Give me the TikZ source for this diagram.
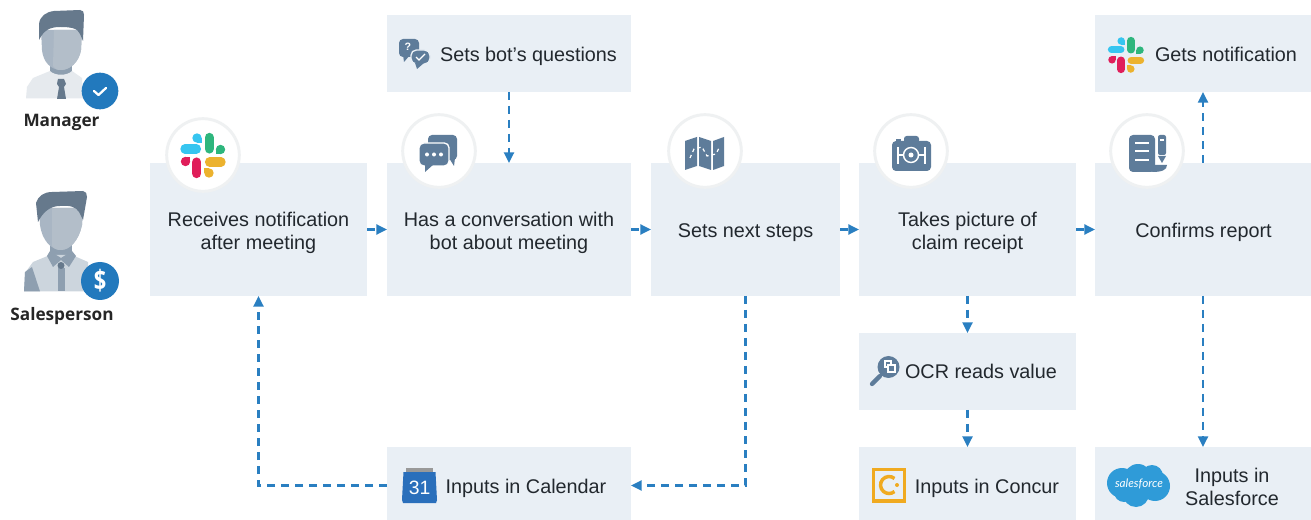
\documentclass[tikz,border=0pt]{standalone}
\usepackage{fontspec}
\setmainfont{Liberation Sans}
\newfontfamily\lblfont{Open Sans}
\newfontfamily\logofont{Lato}
\usetikzlibrary{arrows.meta}
\definecolor{boxbg}{HTML}{E9EFF5}
\definecolor{slate}{HTML}{5E7C9A}
\definecolor{flow}{HTML}{2A7FC1}
\definecolor{ink}{HTML}{22282E}
\definecolor{badge}{HTML}{2279BD}
\definecolor{ring}{HTML}{EFF1F2}
\definecolor{faceA}{HTML}{A9B6C4}
\definecolor{faceB}{HTML}{B3BEC9}
\definecolor{hairc}{HTML}{66798C}
\definecolor{neckc}{HTML}{8E9FB0}
\definecolor{slBlue}{HTML}{36C5F0}
\definecolor{slGreen}{HTML}{2EB67D}
\definecolor{slRed}{HTML}{E01E5A}
\definecolor{slYellow}{HTML}{ECB22E}
\definecolor{concurc}{RGB}{240,170,32}
\definecolor{sfblue}{RGB}{47,155,216}
\definecolor{calblue}{RGB}{42,111,187}
\definecolor{shirtm}{HTML}{E6EAEE}
\definecolor{shirts}{HTML}{CCD5DD}
\tikzset{
  panel/.style={fill=boxbg,draw=none,inner sep=0pt,outer sep=0pt},
  caption/.style={inner sep=0pt,text=ink,align=center,font=\fontsize{14.85}{17.3}\selectfont},
  oneline/.style={caption,text height=10.5pt,text depth=3pt},
  who/.style={inner sep=0pt,text=black!85,font=\lblfont\bfseries\fontsize{12.9}{15}\selectfont},
  ringdisc/.style={circle,fill=white,draw=ring,line width=2.2pt,minimum size=54.5pt,inner sep=0pt},
  flowline/.style={draw=flow,line width=1.7pt,dash pattern=on 6pt off 4.5pt,-{Triangle[length=8pt,width=7.5pt]}},
}
\newcommand{\slacklogo}[3]{%
\begin{scope}[shift={(#1,#2)},scale=#3]
 \begin{scope}[line cap=round,line width=#3*7pt]
  \draw[slGreen] (6.2,-18) -- (6.2,-6.6);
  \draw[slBlue] (-18,-6.6) -- (-6.6,-6.6);
  \draw[slRed] (-6.2,6.6) -- (-6.2,18);
  \draw[slYellow] (6.6,6.6) -- (18,6.6);
 \end{scope}
 \fill[slGreen] (17.5,-6) circle[radius=4.7];
 \fill[slGreen] (17.5,-6) rectangle (12.8,-1.3);
 \fill[slBlue] (-6,-17.5) circle[radius=4.7];
 \fill[slBlue] (-6,-17.5) rectangle (-1.3,-12.8);
 \fill[slRed] (-17.5,6) circle[radius=4.7];
 \fill[slRed] (-17.5,6) rectangle (-12.8,1.3);
 \fill[slYellow] (6,17.5) circle[radius=4.7];
 \fill[slYellow] (6,17.5) rectangle (1.3,12.8);
\end{scope}}
\begin{document}
\begin{tikzpicture}[x=0.75pt,y=-0.75pt]
\useasboundingbox (0,0) rectangle (1311,520);
\fill[white] (0,0) rectangle (1311,520);

% panels
\node[panel,minimum width=162.75pt,minimum height=99.75pt] (recv) at (258.5,229.5) {};
\node[panel,minimum width=183pt,minimum height=99.75pt] (conv) at (509,229.5) {};
\node[panel,minimum width=141.75pt,minimum height=99.75pt] (next) at (745.5,229.5) {};
\node[panel,minimum width=162.75pt,minimum height=99.75pt] (take) at (967.5,229.5) {};
\node[panel,minimum width=162pt,minimum height=99.75pt] (conf) at (1203,229.5) {};
\node[panel,minimum width=183pt,minimum height=57.75pt] (bot) at (509,53.5) {};
\node[panel,minimum width=162pt,minimum height=57.75pt] (gets) at (1203,53.5) {};
\node[panel,minimum width=162.75pt,minimum height=57.75pt] (ocr) at (967.5,371.5) {};
\node[panel,minimum width=162.75pt,minimum height=54.75pt] (conc) at (967.5,483.5) {};
\node[panel,minimum width=162pt,minimum height=54.75pt] (sale) at (1203,483.5) {};
\node[panel,minimum width=183pt,minimum height=54.75pt] (cal) at (509,483.5) {};

% captions
\node[caption] (recvT) at (258.5,232.5) {Receives notification\\after meeting};
\node[caption] (convT) at (509,232.5) {Has a conversation with\\bot about meeting};
\node[oneline] (nextT) at (745.5,232.5) {Sets next steps};
\node[caption] (takeT) at (967.5,232.5) {Takes picture of\\claim receipt};
\node[oneline] (confT) at (1203.5,232.5) {Confirms report};
\node[oneline] (botT) at (528.5,57) {Sets bot’s questions};
\node[oneline] (getsT) at (1226,56.5) {Gets notification};
\node[oneline] (ocrT) at (981,374) {OCR reads value};
\node[oneline] (concT) at (987,488.5) {Inputs in Concur};
\node[caption] (saleT) at (1232,487) {Inputs in\\Salesforce};
\node[oneline] (calT) at (526,488.5) {Inputs in Calendar};

% ring discs
\node[ringdisc] (d1) at (203,155) {};
\node[ringdisc] (d2) at (439,151) {};
\node[ringdisc] (d3) at (705,151) {};
\node[ringdisc] (d4) at (911,151) {};
\node[ringdisc] (d5) at (1147,151) {};

% slack logos
\slacklogo{203}{155.5}{1}
\slacklogo{1126}{55}{0.8}

% conversation icon
\fill[slate,rounded corners=3pt] (428,135) rectangle (457,160);
\fill[slate] (449,158) -- (455,158) -- (454,166) -- cycle;
\fill[slate,draw=white,line width=1pt,rounded corners=3.5pt] (419,143) rectangle (449,166);
\fill[slate] (425,164) -- (434,164) -- (425,172) -- cycle;
\fill[white] (427,154.5) circle[radius=2] (434,154.5) circle[radius=2] (441,154.5) circle[radius=2];

% map icon
\fill[slate] (685,141) -- (697,137) -- (697,166) -- (685,170) -- cycle;
\fill[slate] (699,137) -- (711,141) -- (711,170) -- (699,166) -- cycle;
\fill[slate] (713,141) -- (724,137) -- (724,166) -- (713,170) -- cycle;
\draw[white,line width=0.9pt,dash pattern=on 2.5pt off 2.5pt] (690,158) -- (694,149) -- (702,147) -- (707,156) -- (716,154) -- (720,146);

% camera icon
\fill[slate,rounded corners=2pt] (904,136) rectangle (919,143);
\fill[slate] (896,139) rectangle (901,143);
\fill[slate,rounded corners=3pt] (892,141) rectangle (931,171);
\draw[white,line width=0.9pt] (898,147) -- (898,164) (925,147) -- (925,164) (898,155) -- (903,155) (919,155) -- (925,155);
\draw[white,line width=1.1pt] (911,155) circle[radius=7.5];
\fill[white] (911,155) circle[radius=2.5];

% form icon
\fill[slate,rounded corners=3pt] (1129,135) rectangle (1155,172);
\draw[white,line width=1.2pt] (1135,143) -- (1149,143) (1135,151) -- (1149,151) (1135,160) -- (1149,160);
\fill[slate,rounded corners=1.5pt] (1158,135) rectangle (1166,155);
\fill[white] (1160,139) rectangle (1164,141);
\fill[slate] (1158,156) -- (1166,156) -- (1162,163) -- cycle;
\fill[slate] (1155,165) -- (1167,165) .. controls (1167,170) and (1162,172) .. (1152,172) -- cycle;

% question bubbles icon
\fill[slate,rounded corners=3pt] (399,39) rectangle (419,57);
\fill[slate] (403,55) -- (410,55) -- (404,62) -- cycle;
\node[inner sep=0pt,text=white,font=\bfseries\fontsize{8}{8}\selectfont] (qm) at (408,47) {?};
\fill[slate,draw=boxbg,line width=1pt,rounded corners=4pt] (411,50) rectangle (430,64);
\fill[slate] (415,63) -- (424,63) -- (417,69) -- cycle;
\draw[white,line width=1pt] (416,57) -- (419,60) -- (425,54);

% magnifier icon
\draw[slate,line width=3.2pt,line cap=round] (872,384) -- (880,376);
\fill[slate] (888.5,367) circle[radius=11];
\draw[white,line width=0.8pt] (885,361) rectangle (891,367);
\draw[white,line width=0.8pt,fill=slate] (888,365) rectangle (895,372);

% concur icon
\draw[concurc,line width=2.6pt] (873.5,469.5) rectangle (904.5,501);
\draw[concurc,line width=2.6pt] (894.5,478.5) arc[start angle=-50,end angle=-310,radius=8.5];
\fill[concurc] (897,485) circle[radius=2];

% salesforce cloud
\fill[sfblue] (1122,483) circle[radius=15] (1138,478) circle[radius=14] (1152,476) circle[radius=11] (1155,486) circle[radius=15] (1136,494) circle[radius=13] (1124,492) circle[radius=10];
\node[inner sep=0pt,text=white,font=\logofont\itshape\fontsize{8.8}{9}\selectfont] (sfT) at (1139,484) {salesforce};

% calendar icon
\fill[black!40] (406,468) rectangle (433,474);
\fill[calblue] (403.5,472) -- (435.5,472) -- (437,500) -- (436,503) -- (403,503) -- (402,500) -- cycle;
\node[inner sep=0pt,text=white,font=\fontsize{14.5}{15}\selectfont] (calN) at (419.5,488) {31};

% people: manager
\fill[neckc] (50,60) rectangle (72,77);
\fill[shirtm] (26,98.5) -- (27,87) -- (33,78) -- (50,71) .. controls (55,76) and (67,76) .. (72,71) -- (82,78) -- (83,98.5) -- cycle;
\fill[faceA] (41,30) -- (82,30) -- (81,50) .. controls (79,62) and (70,70) .. (61,70) .. controls (51,70) and (43,62) .. (42,50) -- cycle;
\fill[faceB] (54,30) -- (82,30) -- (81,50) .. controls (79,62) and (70,70) .. (61,70) .. controls (57,70) and (54,69) .. (53,66) -- cycle;
\fill[hairc] (39,40) -- (39,24) .. controls (40,16) and (46,12) .. (54,11) -- (80,10) .. controls (83,10) and (84,12) .. (84,15) -- (83,41) -- (80,34) .. controls (78,28) and (70,27) .. (60,27) .. controls (50,27) and (44,30) .. (39,40) -- cycle;
\fill[hairc] (58,79) -- (64,79) -- (66,84) -- (64,87) -- (66,99) -- (57,99) -- (59,87) -- (57,84) -- cycle;
\node[circle,fill=badge,minimum size=27.5pt,inner sep=0pt] (bm) at (100,91) {};
\draw[white,line width=1.7pt,line cap=round,line join=round] (94,91) -- (98.5,95) -- (106,88);
\node[who] (mgr) at (61.5,122.5) {Manager};

% people: salesperson
\fill[neckc] (50,240) rectangle (72,258);
\fill[shirts] (24,291.5) -- (25,273) -- (33,262) -- (50,255) -- (72,255) -- (88,262) -- (90,291.5) -- cycle;
\fill[neckc] (24,291.5) -- (25,272) -- (32,267) -- (40,291.5) -- cycle;
\fill[faceA] (39,208) -- (83,208) -- (82,225) .. controls (79,240) and (70,250) .. (61,250) .. controls (51,250) and (42,240) .. (40,225) -- cycle;
\fill[faceB] (52,208) -- (83,208) -- (82,225) .. controls (79,240) and (70,250) .. (61,250) .. controls (57,250) and (54,249) .. (52,246) -- cycle;
\fill[hairc] (38,222) -- (36,203) .. controls (38,196) and (44,192) .. (52,192) -- (83,191) .. controls (86,191) and (87,194) .. (87,197) -- (83,220) -- (79,212) .. controls (76,207) and (70,205) .. (60,206) .. controls (50,206) and (43,212) .. (38,222) -- cycle;
\fill[neckc] (50,251) -- (47,256) -- (53,267) -- (61,260) -- (69,267) -- (76,256) -- (72,251) -- (61,258) -- cycle;
\fill[neckc] (58,268) -- (65,268) -- (65,291.5) -- (58,291.5) -- cycle;
\fill[hairc] (61,265.5) circle[radius=3.5];
\node[circle,fill=badge,minimum size=28.5pt,inner sep=0pt] (bs) at (100,281) {};
\node[inner sep=0pt,text=white,font=\lblfont\bfseries\fontsize{21}{22}\selectfont] (dollar) at (100,281) {\scalebox{0.78}[1]{\$}};
\node[who] (slp) at (62,316) {Salesperson};

% connectors
\draw[flowline] (recv) -- (conv);
\draw[flowline] (conv) -- (next);
\draw[flowline] (next) -- (take);
\draw[flowline] (take) -- (conf);
\draw[flowline] (bot) -- (conv);
\draw[flowline] (conf) -- (gets);
\draw[flowline] (take) -- (ocr);
\draw[flowline] (ocr) -- (conc);
\draw[flowline] (conf) -- (sale);
\draw[flowline] (next) |- ([yshift=-1.5pt]cal.east);
\draw[flowline] ([yshift=-1.5pt]cal.west) -| (recv);
\end{tikzpicture}
\end{document}
